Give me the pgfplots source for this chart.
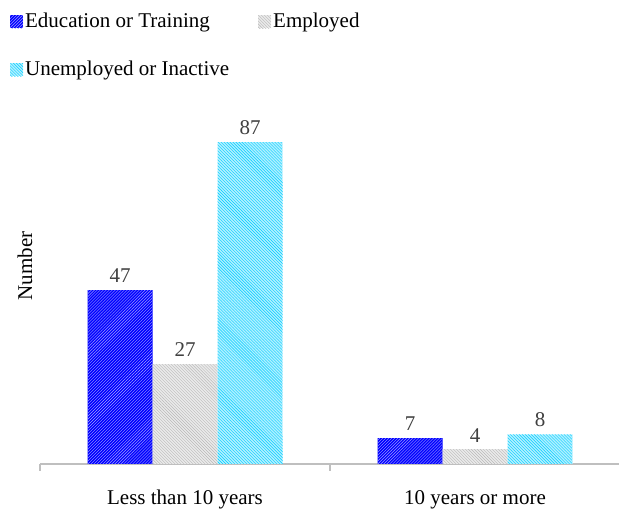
\documentclass[border=0pt]{standalone}
\usepackage{pgfplots}
\pgfplotsset{compat=1.18}
\usetikzlibrary{patterns}
\usepackage{fontspec}
\setmainfont{Liberation Serif}
\definecolor{edublue}{RGB}{0,0,255}
\definecolor{empgray}{RGB}{185,185,185}
\definecolor{unecyan}{RGB}{0,204,255}
\definecolor{axgray}{RGB}{191,191,191}
\definecolor{lblgray}{RGB}{64,64,64}
\begin{document}
\fontsize{21bp}{24bp}\selectfont
\begin{tikzpicture}
\useasboundingbox (-40bp,-46bp) rectangle (579bp,464bp);
\begin{axis}[
  at={(0,0)}, anchor=south west,
  scale only axis,
  width=580bp, height=370bp,
  xmin=-0.5, xmax=1.5,
  ymin=0, ymax=100,
  ybar=0pt, bar width=65bp,
  axis x line*=bottom,
  axis y line*=left,
  y axis line style={draw=none},
  x axis line style={axgray, line width=1.5bp, -},
  xtick={0,1},
  xticklabels={Less than 10 years, 10 years or more},
  major tick length=0pt,
  extra x ticks={-0.5,0.5,1.5},
  extra x tick labels={},
  extra x tick style={major tick length=7bp, tick align=outside, tick style={axgray, line width=1.5bp}},
  xticklabel style={font=\fontsize{21bp}{24bp}\selectfont, yshift=-19bp},
  ytick=\empty,
  ylabel={Number},
  ylabel style={at={(axis description cs:-0.026,0.535)}, anchor=center, font=\fontsize{21bp}{24bp}\selectfont},
  /pgf/number format/assume math mode=true,
  nodes near coords,
  nodes near coords style={font=\fontsize{21bp}{24bp}\selectfont, text=lblgray},
  legend columns=2,
  legend cell align=left,
  legend style={at={(-0.057,1.23)}, anchor=north west, draw=none, fill=none,
    font=\fontsize{21bp}{24bp}\selectfont,
    row sep=26bp,
    /tikz/every even column/.append style={column sep=27bp}},
  legend image code/.code={\path[#1,draw=none] (0bp,-6.5bp) rectangle (13bp,6.5bp);},
]
\addplot[draw=none, fill=edublue, postaction={pattern=north east lines, pattern color=edublue!35!white}]
  coordinates {(0,47) (1,7)};
\addplot[draw=none, fill=empgray!30!white, postaction={pattern=north west lines, pattern color=empgray}]
  coordinates {(0,27) (1,4)};
\addplot[draw=none, fill=unecyan!30!white, postaction={pattern=north west lines, pattern color=unecyan}]
  coordinates {(0,87) (1,8)};
\legend{Education or Training, Employed, Unemployed or Inactive}
\end{axis}
\end{tikzpicture}
\end{document}
